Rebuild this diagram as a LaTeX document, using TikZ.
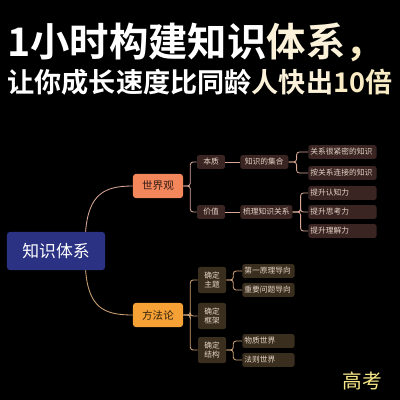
\documentclass[tikz,border=0pt]{standalone}
\usepackage{fontspec}
\newfontfamily\cjk{Noto Sans CJK SC}[BoldFont={Noto Sans CJK SC Bold}]
\usetikzlibrary{positioning,calc}
\definecolor{mmroot}{RGB}{43,50,131}
\definecolor{mmworld}{RGB}{244,134,92}
\definecolor{mmmethod}{RGB}{245,161,54}
\definecolor{mmupbox}{RGB}{58,37,34}
\definecolor{mmlowbox}{RGB}{58,46,30}
\definecolor{mmtext}{RGB}{230,213,200}
\definecolor{mmupline}{RGB}{217,167,150}
\definecolor{mmlowline}{RGB}{205,162,118}
\definecolor{mmgold}{RGB}{246,226,170}
\tikzstyle{rootbox} = [rectangle, rounded corners=2pt, fill=mmroot, text=white, minimum width=2.45cm, minimum height=0.95cm, font=\fontsize{12}{14}\selectfont\cjk]
\tikzstyle{mainbox} = [rectangle, rounded corners=2pt, minimum width=1.25cm, minimum height=0.6cm, font=\fontsize{7.5}{9}\selectfont\cjk, inner sep=1pt]
\tikzstyle{upbox} = [rectangle, rounded corners=1.5pt, fill=mmupbox, text=mmtext, minimum height=0.34cm, inner sep=1pt, font=\fontsize{5.5}{6}\selectfont\cjk]
\tikzstyle{lowbox} = [upbox, fill=mmlowbox]
\tikzstyle{upline} = [line width=0.6pt, color=mmupline, rounded corners=2pt]
\tikzstyle{lowline} = [line width=0.6pt, color=mmlowline, rounded corners=2pt]
\begin{document}
\begin{tikzpicture}[x=0.025cm, y=-0.025cm]
\fill[black] (0,0) rectangle (400,400);
\useasboundingbox (0,0) rectangle (400,400);

% Title
\node[font=\fontsize{28}{30}\selectfont\cjk\bfseries, text=white] (title1) at (196,42) {1小时构建知识\textcolor{mmgold!45!white}{体系}\textcolor{mmgold!70!white}{，}};
\node[font=\fontsize{19.3}{22}\selectfont\cjk\bfseries, text=white] (title2) at (200,82) {让你成长速度比同龄\textcolor{mmgold!45!white}{人快出}\textcolor{mmgold!70!white}{10倍}};

% Root and main branches
\node[rootbox] (root) at (56,251) {知识体系};
\node[mainbox, fill=mmworld, text=black!80!mmworld] (world) at (158,186) {世界观};
\node[mainbox, fill=mmmethod, text=black!80!mmmethod] (method) at (158,315) {方法论};

\coordinate (rtop) at ($(root.north west)!0.8!(root.north east)$);
\coordinate (rbot) at ($(root.south west)!0.8!(root.south east)$);
\draw[upline] (rtop) .. controls +(3,-38) and +(-28,0) .. (world.west);
\draw[lowline] (rbot) .. controls +(3,38) and +(-28,0) .. (method.west);

% World view
\node[upbox, minimum width=0.7cm] (essence) at (211,162) {本质};
\node[upbox, minimum width=0.7cm] (value) at (211,212) {价值};
\node[upbox, minimum width=1.2cm, anchor=west] (set) at (240,162) {知识的集合};
\node[upbox, minimum width=1.3cm, anchor=west] (sort) at (240,212) {梳理知识关系};

\foreach \n/\y/\t in {close/152/关系很紧密的知识, link/173/按关系连接的知识, cog/193/提升认知力, think/212/提升思考力, under/231/提升理解力}
  \node[upbox, anchor=west, text width=1.6cm, align=left, inner xsep=1.5pt] (\n) at (308,\y) {\t};

\foreach \c in {essence,value}
  \draw[upline] (world.east) -- ++(7,0) |- (\c.west);
\draw[upline] (essence) -- (set);
\draw[upline] (value) -- (sort);
\foreach \c in {close,link}
  \draw[upline] (set.east) -- ++(8,0) |- (\c.west);
\foreach \c in {cog,think,under}
  \draw[upline] (sort.east) -- ++(8,0) |- (\c.west);

% Method
\node[lowbox, minimum width=0.7cm, minimum height=0.65cm, align=center] (topic) at (212,280) {确定\\主题};
\node[lowbox, minimum width=0.7cm, minimum height=0.65cm, align=center] (frame) at (212,316) {确定\\框架};
\node[lowbox, minimum width=0.7cm, minimum height=0.65cm, align=center] (struct) at (212,350) {确定\\结构};

\foreach \n/\y/\t in {first/271/第一原理导向, key/290/重要问题导向, matter/341/物质世界, law/360/法则世界}
  \node[lowbox, anchor=west, text width=1.2cm, align=left, inner xsep=1.5pt] (\n) at (242,\y) {\t};

\foreach \c in {topic,frame,struct}
  \draw[lowline] (method.east) -- ++(7,0) |- (\c.west);
\foreach \c in {first,key}
  \draw[lowline] (topic.east) -- ++(7,0) |- (\c.west);
\foreach \c in {matter,law}
  \draw[lowline] (struct.east) -- ++(7,0) |- (\c.west);

% Watermark
\node[font=\fontsize{14}{16}\selectfont\cjk, text=mmgold!80!yellow] (mark) at (362,381) {高考};
\end{tikzpicture}
\end{document}
